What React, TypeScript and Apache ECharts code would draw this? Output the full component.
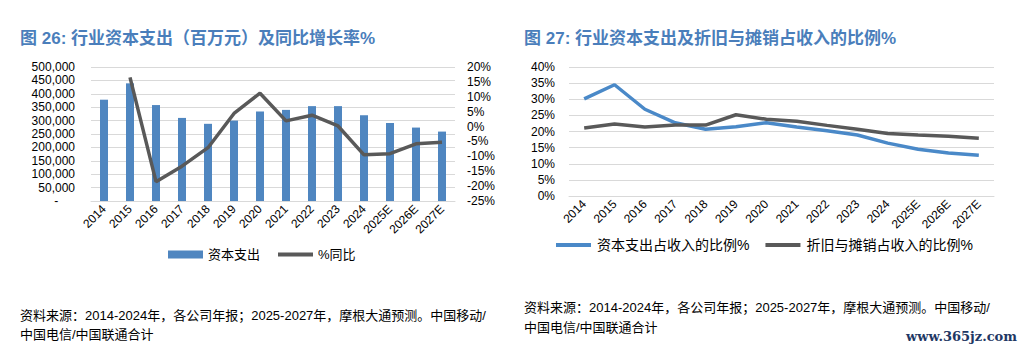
import React, { useEffect, useRef } from 'react';
import * as echarts from 'echarts';

const years = ['2014', '2015', '2016', '2017', '2018', '2019', '2020', '2021', '2022', '2023', '2024', '2025E', '2026E', '2027E'];
const capex = [378000, 439000, 358000, 310000, 288000, 300000, 334000, 340000, 354000, 354000, 320000, 291000, 274000, 259000];
const yoy = [null, 16.5, -18.5, -13.3, -7.1, 4.4, 11.2, 1.9, 3.8, 0.2, -9.5, -9.1, -5.8, -5.3];
const capexRatio = [30.1, 34.5, 26.9, 22.7, 20.7, 21.5, 22.7, 21.4, 20.2, 18.9, 16.4, 14.5, 13.3, 12.6];
const daRatio = [21.1, 22.3, 21.4, 22.0, 22.0, 25.2, 23.8, 23.2, 21.9, 20.7, 19.4, 18.9, 18.5, 17.9];

const leftTitle = '图 26: 行业资本支出（百万元）及同比增长率%';
const rightTitle = '图 27: 行业资本支出及折旧与摊销占收入的比例%';
const sourceText = '资料来源：2014-2024年，各公司年报；2025-2027年，摩根大通预测。中国移动/\n中国电信/中国联通合计';
const watermark = 'www.365jz.com';

const FONT = "'Liberation Sans', 'Noto Sans CJK SC', sans-serif";
const BLUE = '#4F86C0';
const LINE_BLUE = '#4A89C8';
const GRAY = '#595959';
const GRID = '#d9d9d9';
const LINE_ICON = 'path://M0,0M0,8M0,2h35v4h-35z';

export default function App() {
  const ref = useRef<HTMLDivElement>(null);
  useEffect(() => {
    const chart = echarts.init(ref.current!, null, { renderer: 'svg' });
    const axisLabel = { fontSize: 12, color: '#000', fontFamily: FONT };
    const xAxisCommon = {
      type: 'category',
      data: years,
      boundaryGap: true,
      axisLine: { lineStyle: { color: GRID } },
      axisTick: { length: 4, lineStyle: { color: GRID } },
      axisLabel: { ...axisLabel, rotate: 45, interval: 0, margin: 6 },
    };
    const titleStyle = { fontSize: 17, fontWeight: 'bold', color: '#4A7EBB', fontFamily: FONT };
    chart.setOption({
      animation: false,
      textStyle: { fontFamily: FONT },
      title: [
        { text: leftTitle, left: 20, top: 30, padding: 0, textStyle: titleStyle },
        { text: rightTitle, left: 524, top: 30, padding: 0, textStyle: titleStyle },
      ],
      grid: [
        { left: 91, right: 569, top: 67, bottom: 153 },
        { left: 569, right: 30, top: 67, bottom: 158 },
      ],
      xAxis: [
        { ...xAxisCommon, gridIndex: 0 },
        { ...xAxisCommon, gridIndex: 1 },
      ],
      yAxis: [
        {
          gridIndex: 0, type: 'value', min: 0, max: 500000, interval: 50000,
          axisLine: { show: false }, axisTick: { show: false },
          splitLine: { lineStyle: { color: GRID } },
          axisLabel: { ...axisLabel, margin: 16, formatter: (v: number) => (v === 0 ? '-     ' : v.toLocaleString('en-US')) },
        },
        {
          gridIndex: 0, type: 'value', position: 'right', min: -25, max: 20, interval: 5,
          axisLine: { show: false }, axisTick: { show: false }, splitLine: { show: false },
          axisLabel: { ...axisLabel, margin: 12, formatter: '{value}%' },
        },
        {
          gridIndex: 1, type: 'value', min: 0, max: 40, interval: 5,
          axisLine: { show: false }, axisTick: { show: false },
          splitLine: { lineStyle: { color: GRID } },
          axisLabel: { ...axisLabel, margin: 14, formatter: '{value}%' },
        },
      ],
      legend: [
        {
          data: [{ name: '资本支出', icon: 'rect' }, { name: '%同比', icon: LINE_ICON }],
          left: 168, top: 248, padding: 0,
          itemWidth: 35, itemHeight: 8, itemGap: 18,
          textStyle: { fontSize: 13, color: '#000', fontFamily: FONT },
        },
        {
          data: [{ name: '资本支出占收入的比例%', icon: LINE_ICON }, { name: '折旧与摊销占收入的比例%', icon: LINE_ICON }],
          left: 556, top: 238, padding: 0,
          itemWidth: 37, itemHeight: 8, itemGap: 16,
          textStyle: { fontSize: 14, color: '#000', fontFamily: FONT },
        },
      ],
      series: [
        { name: '资本支出', type: 'bar', xAxisIndex: 0, yAxisIndex: 0, data: capex, barWidth: 8, itemStyle: { color: BLUE } },
        { name: '%同比', type: 'line', xAxisIndex: 0, yAxisIndex: 1, data: yoy, symbol: 'none', lineStyle: { width: 3.5, color: GRAY }, itemStyle: { color: GRAY } },
        { name: '资本支出占收入的比例%', type: 'line', xAxisIndex: 1, yAxisIndex: 2, data: capexRatio, symbol: 'none', lineStyle: { width: 3.5, color: LINE_BLUE }, itemStyle: { color: LINE_BLUE } },
        { name: '折旧与摊销占收入的比例%', type: 'line', xAxisIndex: 1, yAxisIndex: 2, data: daRatio, symbol: 'none', lineStyle: { width: 3.5, color: GRAY }, itemStyle: { color: GRAY } },
      ],
      graphic: [
        { type: 'text', left: 20, top: 306, style: { text: sourceText, fontSize: 13, lineHeight: 19, fill: '#000', fontFamily: FONT } },
        { type: 'text', left: 524, top: 297, style: { text: sourceText, fontSize: 13, lineHeight: 20, fill: '#000', fontFamily: FONT } },
        { type: 'text', right: 7, top: 330, style: { text: watermark, fontSize: 13, fontWeight: 'bold', fill: '#1F3864', fontFamily: "'DejaVu Serif', serif" } },
      ],
    });
    return () => chart.dispose();
  }, []);
  return <div ref={ref} style={{ position: 'absolute', left: 0, top: 0, width: 1024, height: 354, background: '#fff' }} />;
}
